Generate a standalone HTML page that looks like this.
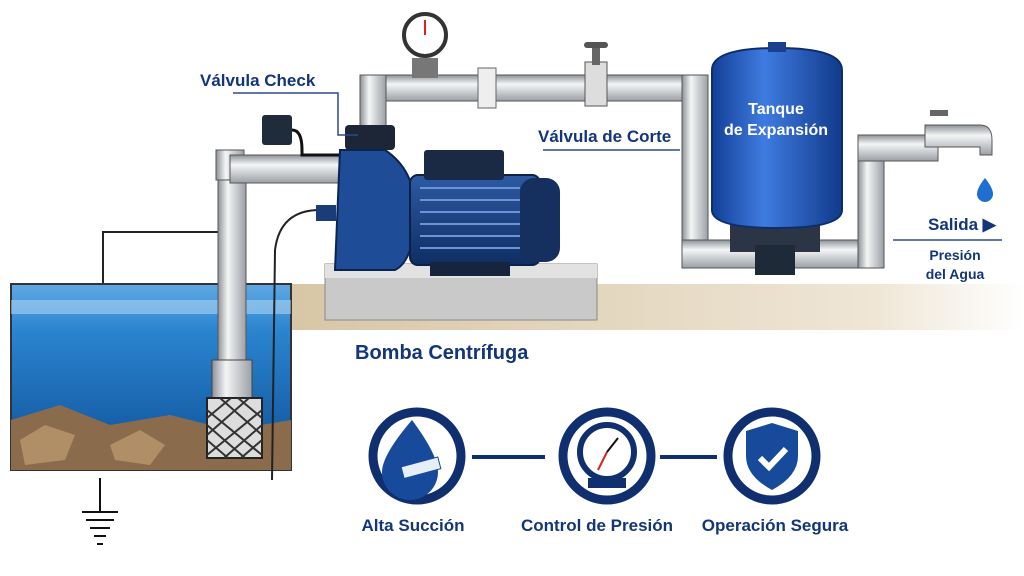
<!DOCTYPE html>
<html><head><meta charset="utf-8"><style>
html,body{margin:0;padding:0;background:#fff;}
svg{display:block;font-family:"Liberation Sans",sans-serif;}
.lbl{fill:#13357a;font-weight:bold;}
</style></head><body>
<svg width="1024" height="576" viewBox="0 0 1024 576" xmlns="http://www.w3.org/2000/svg">
<defs>
<linearGradient id="pipeV" x1="0" x2="1" y1="0" y2="0"><stop offset="0" stop-color="#8d9298"/><stop offset=".35" stop-color="#f4f5f6"/><stop offset="1" stop-color="#9ba0a6"/></linearGradient>
<linearGradient id="pipeH" x1="0" x2="0" y1="0" y2="1"><stop offset="0" stop-color="#8d9298"/><stop offset=".35" stop-color="#f4f5f6"/><stop offset="1" stop-color="#9ba0a6"/></linearGradient>
<linearGradient id="water" x1="0" x2="0" y1="0" y2="1"><stop offset="0" stop-color="#5fa9e4"/><stop offset=".25" stop-color="#2b84cf"/><stop offset="1" stop-color="#0d4f97"/></linearGradient>
<linearGradient id="tank" x1="0" x2="1"><stop offset="0" stop-color="#123f96"/><stop offset=".4" stop-color="#3f7be0"/><stop offset="1" stop-color="#113a8a"/></linearGradient>
<linearGradient id="ground" x1="0" x2="1"><stop offset="0" stop-color="#d8c6a6"/><stop offset=".8" stop-color="#efe6d6"/><stop offset="1" stop-color="#fff"/></linearGradient>
<linearGradient id="motor" x1="0" x2="0" y1="0" y2="1"><stop offset="0" stop-color="#2d5aa3"/><stop offset="1" stop-color="#0f2e63"/></linearGradient>
</defs>
<!-- ground -->
<rect x="290" y="284" width="734" height="46" fill="url(#ground)"/>
<!-- tank box -->
<polyline points="103,283 103,232 245,232 245,283" fill="none" stroke="#222" stroke-width="2"/>
<rect x="11" y="284" width="280" height="186" fill="url(#water)" stroke="#333" stroke-width="2"/>
<rect x="11" y="300" width="280" height="14" fill="#bfe0f8" opacity=".5"/>
<path d="M11 420 L60 405 L110 425 L170 415 L230 430 L291 420 L291 470 L11 470 Z" fill="#8a6c4c"/>
<path d="M20 440 l25 -15 l30 10 l-10 25 l-40 5z M110 445 l30 -15 l25 15 l-15 20 l-35 -5z" fill="#b08e66"/>
<!-- suction pipe -->
<rect x="218" y="180" width="28" height="190" fill="url(#pipeV)" stroke="#555"/>
<rect x="212" y="360" width="40" height="38" fill="url(#pipeV)" stroke="#444"/>
<rect x="207" y="398" width="55" height="60" fill="#ddd" stroke="#222" stroke-width="2"/>
<path d="M207 410 L262 455 M207 425 L245 458 M207 440 L228 458 M220 398 L262 435 M238 398 L262 418 M262 410 L207 455 M262 425 L224 458 M262 440 L241 458 M249 398 L207 435 M231 398 L207 418" stroke="#333" stroke-width="2"/>
<path d="M216 150 h28 v30 h-28z" fill="url(#pipeV)" stroke="#555"/>
<rect x="230" y="155" width="115" height="28" fill="url(#pipeH)" stroke="#555"/>
<rect x="262" y="115" width="30" height="30" fill="#1f2c3c" rx="3"/>
<path d="M292 130 q10 0 10 20 v5 h40" fill="none" stroke="#111" stroke-width="3"/>
<path d="M320 210 q-40 0 -45 40 l-3 230" fill="none" stroke="#222" stroke-width="2"/>
<!-- upper pipe -->
<rect x="362" y="75" width="335" height="26" fill="url(#pipeH)" stroke="#555"/>
<rect x="360" y="75" width="26" height="75" fill="url(#pipeV)" stroke="#555"/>
<rect x="478" y="68" width="18" height="40" fill="#eee" stroke="#666"/>
<rect x="585" y="62" width="22" height="44" fill="#ddd" stroke="#555"/>
<rect x="592" y="45" width="8" height="20" fill="#666"/><rect x="584" y="42" width="24" height="6" rx="3" fill="#555"/>
<rect x="412" y="58" width="26" height="20" fill="#777"/>
<circle cx="425" cy="35" r="21" fill="#fff" stroke="#333" stroke-width="4"/>
<line x1="425" y1="35" x2="425" y2="20" stroke="#d22" stroke-width="2"/>
<rect x="682" y="75" width="26" height="190" fill="url(#pipeV)" stroke="#555"/>
<rect x="682" y="240" width="200" height="28" fill="url(#pipeH)" stroke="#555"/>
<rect x="858" y="140" width="26" height="128" fill="url(#pipeV)" stroke="#555"/>
<rect x="858" y="135" width="80" height="26" fill="url(#pipeH)" stroke="#555"/>
<path d="M925 125 h55 q12 0 12 15 v15 h-12 v-8 h-55z" fill="url(#pipeH)" stroke="#555"/>
<rect x="930" y="110" width="18" height="6" fill="#666"/>
<path d="M985 178 q-8 10 -8 16 a8 8 0 0 0 16 0 q0 -6 -8 -16z" fill="#1e6fd0"/>
<!-- tank -->
<rect x="730" y="222" width="90" height="30" fill="#2b3545"/>
<rect x="755" y="245" width="40" height="30" fill="#1f2a38"/>
<path d="M712 70 q0 -22 65 -22 q65 0 65 22 v140 q0 18 -65 18 q-65 0 -65 -18z" fill="url(#tank)" stroke="#0d2e6b" stroke-width="2"/>
<rect x="768" y="42" width="18" height="10" fill="#1a3f8c"/>
<text x="776" y="114" text-anchor="middle" fill="#fff" font-size="16" font-weight="bold">Tanque</text>
<text x="776" y="135" text-anchor="middle" fill="#fff" font-size="16" font-weight="bold">de Expansión</text>
<!-- base -->
<rect x="325" y="264" width="272" height="56" fill="#c9c9c9" stroke="#888"/>
<rect x="325" y="264" width="272" height="14" fill="#e2e2e2"/>
<!-- pump -->
<rect x="345" y="125" width="50" height="25" fill="#1d2636" rx="4"/>
<path d="M340 150 h45 q30 20 30 60 q0 50 -20 60 h-60 z" fill="#1f4c96" stroke="#0c2550" stroke-width="2"/>
<rect x="316" y="205" width="20" height="16" fill="#1a3d7a"/>
<rect x="410" y="175" width="130" height="90" rx="8" fill="url(#motor)" stroke="#0b2146" stroke-width="2"/>
<g stroke="#6d93d6" stroke-width="2"><line x1="420" y1="188" x2="520" y2="188"/><line x1="420" y1="200" x2="520" y2="200"/><line x1="420" y1="212" x2="520" y2="212"/><line x1="420" y1="224" x2="520" y2="224"/><line x1="420" y1="236" x2="520" y2="236"/><line x1="420" y1="248" x2="520" y2="248"/></g>
<rect x="520" y="178" width="40" height="84" rx="14" fill="#152f5e"/>
<rect x="424" y="150" width="80" height="30" rx="3" fill="#1b2a44"/>
<rect x="430" y="262" width="80" height="14" fill="#16243d"/>
<!-- labels -->
<text x="200" y="86" class="lbl" font-size="17">Válvula Check</text>
<polyline points="233,93 338,93 338,135 358,135" fill="none" stroke="#2b4a8a" stroke-width="1.5"/>
<text x="538" y="142" class="lbl" font-size="17">Válvula de Corte</text>
<line x1="543" y1="150" x2="680" y2="150" stroke="#2b4a8a" stroke-width="1.5"/>
<text x="928" y="230" class="lbl" font-size="17">Salida ▶</text>
<line x1="893" y1="240" x2="1002" y2="240" stroke="#2b4a8a" stroke-width="1.5"/>
<text x="955" y="260" text-anchor="middle" class="lbl" font-size="14">Presión</text>
<text x="955" y="279" text-anchor="middle" class="lbl" font-size="14">del Agua</text>
<text x="355" y="359" class="lbl" font-size="20">Bomba Centrífuga</text>
<!-- ground symbol -->
<g stroke="#111" stroke-width="2"><line x1="100" y1="478" x2="100" y2="512"/><line x1="82" y1="512" x2="118" y2="512"/><line x1="86" y1="520" x2="114" y2="520"/><line x1="90" y1="528" x2="110" y2="528"/><line x1="94" y1="536" x2="106" y2="536"/><line x1="97" y1="544" x2="103" y2="544"/></g>
<!-- feature circles -->
<line x1="472" y1="457" x2="545" y2="457" stroke="#0f2f6e" stroke-width="4"/>
<line x1="660" y1="457" x2="717" y2="457" stroke="#0f2f6e" stroke-width="4"/>
<g fill="#fff" stroke="#0f2f6e" stroke-width="9">
<circle cx="417" cy="456" r="44"/><circle cx="607" cy="456" r="44"/><circle cx="772" cy="456" r="44"/></g>
<path d="M412 420 q-30 35 -30 52 a28 28 0 0 0 56 0 q0 -17 -26 -52z" fill="#174a9a"/>
<rect x="402" y="462" width="38" height="12" fill="#e6eef8" stroke="#174a9a" transform="rotate(-15 420 468)"/>
<circle cx="607" cy="452" r="27" fill="#fff" stroke="#0f2f6e" stroke-width="6"/>
<line x1="607" y1="452" x2="598" y2="470" stroke="#d22" stroke-width="2"/><line x1="607" y1="452" x2="618" y2="438" stroke="#111" stroke-width="2"/>
<rect x="588" y="478" width="38" height="10" fill="#0f2f6e"/>
<path d="M772 423 l26 8 v25 q0 20 -26 34 q-26 -14 -26 -34 v-25z" fill="#174a9a"/>
<path d="M760 458 l9 9 l17 -18" fill="none" stroke="#fff" stroke-width="6"/>
<text x="413" y="531" text-anchor="middle" class="lbl" font-size="17">Alta Succión</text>
<text x="597" y="531" text-anchor="middle" class="lbl" font-size="17">Control de Presión</text>
<text x="775" y="531" text-anchor="middle" class="lbl" font-size="17">Operación Segura</text>
</svg>
</body></html>
